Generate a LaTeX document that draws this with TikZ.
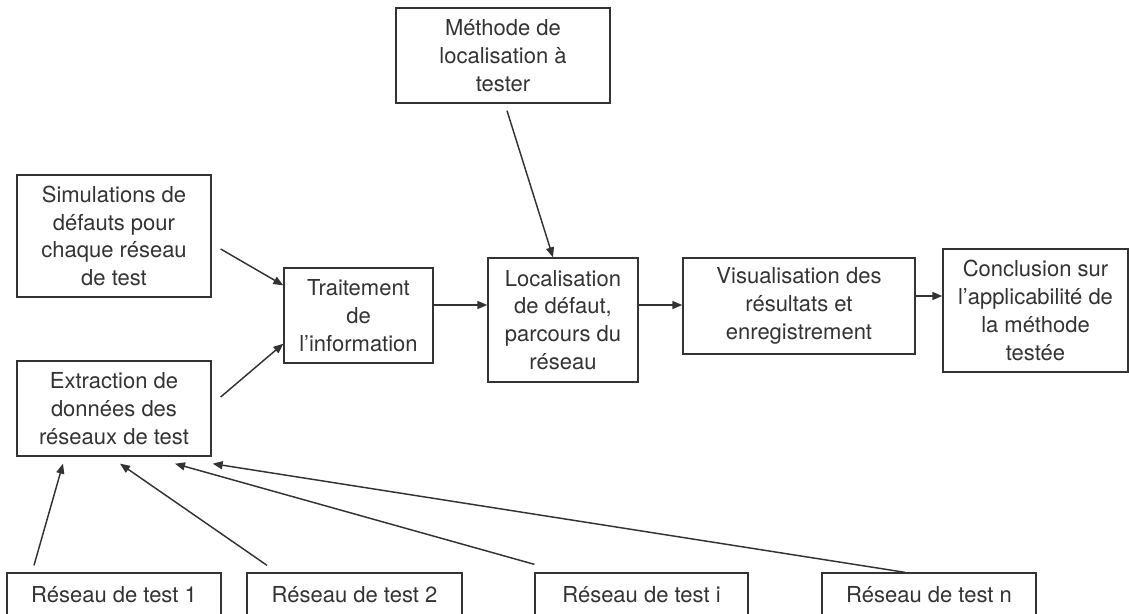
\documentclass[tikz,border=0pt]{standalone}
\usepackage{fontspec}
\setmainfont{TeX Gyre Heros}
\usepackage{xcolor}
\usepackage{tikz}
\usetikzlibrary{arrows.meta,positioning}

\definecolor{inkgray}{HTML}{333333}
\newdimen\px
\px=0.75pt

\begin{document}
\begin{tikzpicture}[x=1\px, y=-1\px, every node/.style={font=\fontsize{16.5}{20.8}\selectfont, text=inkgray}]

    % Styles for the boxes and the connectors
    \tikzset{
        stagebox/.style={draw=inkgray, line width=1pt, fill=white, inner sep=0pt, align=center},
        arrow/.style={-{Triangle[length=7.5pt, width=6pt]}, inkgray, line width=1.1pt}
    }

    \useasboundingbox (0,0) rectangle (1129,614);

    % Method box on top
    \node[stagebox, minimum width=214\px, minimum height=95\px] (methode) at (503,55.5)
        {Méthode de\\localisation à\\tester};

    % Inputs on the left
    \node[stagebox, minimum width=194\px, minimum height=122\px] (simul) at (114,236)
        {Simulations de\\défauts pour\\chaque réseau\\de test};
    \node[stagebox, minimum width=194\px, minimum height=95\px] (extract) at (114,408.5)
        {Extraction de\\données des\\réseaux de test};

    % Main chain
    \node[stagebox, minimum width=149\px, minimum height=95\px] (traite) at (358.5,315.5)
        {Traitement\\de\\l’information};
    \node[stagebox, minimum width=150\px, minimum height=124\px] (local) at (563,320)
        {Localisation\\de défaut,\\parcours du\\réseau};
    \node[stagebox, minimum width=232\px, minimum height=96\px] (visu) at (799,306)
        {Visualisation des\\résultats et\\enregistrement};
    \node[stagebox, minimum width=185\px, minimum height=123\px] (concl) at (1035.5,310.5)
        {Conclusion sur\\l’applicabilité de\\la méthode\\testée};

    % Test networks at the bottom
    \node[stagebox, minimum width=214\px, minimum height=44\px] (res1) at (114,595) {Réseau de test 1};
    \node[stagebox, minimum width=215\px, minimum height=44\px] (res2) at (354.5,595) {Réseau de test 2};
    \node[stagebox, minimum width=213\px, minimum height=44\px] (resi) at (641.5,595) {Réseau de test i};
    \node[stagebox, minimum width=214\px, minimum height=44\px] (resn) at (929,595) {Réseau de test n};

    % Connectors
    \draw[arrow] ([shift={(9,13)}]simul.east) -- ([shift={(0,18)}]traite.north west);
    \draw[arrow] ([shift={(9,-11.5)}]extract.east) -- ([shift={(0,-20)}]traite.south west);
    \draw[arrow] ([shift={(0,-10.5)}]traite.east) -- ([shift={(0,-10.5)}]local.west |- traite.east);
    \draw[arrow] ([shift={(0,-15)}]local.east) -- ([shift={(0,-15)}]visu.west |- local.east);
    \draw[arrow] ([shift={(0,-10)}]visu.east) -- ([shift={(0,-10)}]concl.west |- visu.east);
    \draw[arrow] ([shift={(4,7)}]methode.south) -- ([shift={(-10,0)}]local.north);

    \draw[arrow] ([shift={(-80,-7)}]res1.north) -- ([shift={(-51,7)}]extract.south);
    \draw[arrow] ([shift={(-87.5,-7)}]res2.north) -- ([shift={(6,7)}]extract.south);
    \draw[arrow] ([shift={(0,-8)}]resi.north west) -- ([shift={(61,7)}]extract.south);
    \draw[arrow] ([shift={(-24,0)}]resn.north) -- ([shift={(1,7)}]extract.south east);

\end{tikzpicture}
\end{document}
